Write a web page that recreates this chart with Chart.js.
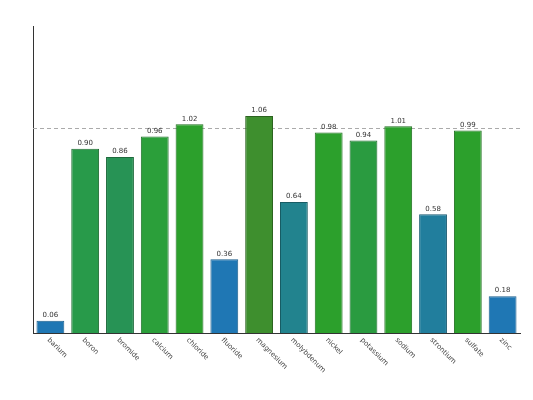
<!DOCTYPE html>
<html lang="en">
<head>
  <meta charset="UTF-8" />
  <title>Concentration ratios</title>
  <script src="https://cdn.jsdelivr.net/npm/chart.js"></script>
  <style>
    html, body { margin: 0; padding: 0; background: #fff; }
    #wrap { width: 533px; height: 400px; }
  </style>
</head>
<body>
  <div id="wrap"><canvas id="ratioChart" width="533" height="400"></canvas></div>

  <script>
    // datos
    const analytes = ['barium', 'boron', 'bromide', 'calcium', 'chloride', 'fluoride', 'magnesium',
      'molybdenum', 'nickel', 'potassium', 'sodium', 'strontium', 'sulfate', 'zinc'];
    const ratios = [0.06, 0.90, 0.86, 0.96, 1.02, 0.36, 1.06, 0.64, 0.98, 0.94, 1.01, 0.58, 0.99, 0.18];
    const barColors = ['#1f77b4', '#289a4a', '#279355', '#2b9f3a', '#2ca02c', '#1f77b4', '#3e8f2e',
      '#22838e', '#2ca02c', '#2a9b40', '#2ca02c', '#217e9d', '#2ca02c', '#1f77b4'];
    const edgeColors = ['#1b5e8c', '#1f6b33', '#1e6a3c', '#1f702a', '#1f6f1f', '#1b5e8c', '#2c6320',
      '#185c64', '#1f6f1f', '#1f6b2d', '#1f6f1f', '#175870', '#1f6f1f', '#1b5e8c'];
    const refLine = 1.0;

    const extras = {
      id: 'extras',
      beforeDatasetsDraw(chart) {
        const { ctx, chartArea, scales } = chart;
        const y = scales.y.getPixelForValue(refLine);
        ctx.save();
        ctx.strokeStyle = '#aaaaaa';
        ctx.lineWidth = 1;
        ctx.setLineDash([4, 3]);
        ctx.beginPath();
        ctx.moveTo(chartArea.left, Math.round(y) + 0.5);
        ctx.lineTo(chartArea.right, Math.round(y) + 0.5);
        ctx.stroke();
        ctx.restore();
      },
      afterDatasetsDraw(chart) {
        const { ctx, chartArea, scales } = chart;
        const meta = chart.getDatasetMeta(0);
        ctx.save();
        ctx.fillStyle = '#333';
        ctx.font = '7px "DejaVu Sans", sans-serif';
        ctx.textAlign = 'center';
        ctx.textBaseline = 'bottom';
        meta.data.forEach((bar, i) => {
          ctx.fillText(ratios[i].toFixed(2), bar.x, bar.y - 2);
        });

        // etiquetas giradas 45° hacia abajo
        ctx.fillStyle = '#444';
        ctx.font = '7px "DejaVu Sans", sans-serif';
        ctx.textAlign = 'left';
        ctx.textBaseline = 'middle';
        analytes.forEach((name, i) => {
          const x = scales.x.getPixelForTick(i);
          ctx.save();
          ctx.translate(x - 2, chartArea.bottom + 6);
          ctx.rotate(Math.PI / 4);
          ctx.fillText(name, 0, 0);
          ctx.restore();
        });
        ctx.restore();
      }
    };

    const ctx = document.getElementById('ratioChart').getContext('2d');
    new Chart(ctx, {
      type: 'bar',
      data: {
        labels: analytes,
        datasets: [{
          data: ratios,
          backgroundColor: barColors,
          borderColor: edgeColors,
          borderWidth: 1,
          barPercentage: 0.8,
          categoryPercentage: 1.0
        }]
      },
      options: {
        responsive: false,
        animation: false,
        layout: { padding: { left: 25, right: 13, top: 26, bottom: 59 } },
        plugins: { legend: { display: false }, tooltip: { enabled: false } },
        scales: {
          x: {
            grid: { display: false },
            border: { display: true, color: '#333', width: 1 },
            ticks: { display: false }
          },
          y: {
            min: 0,
            max: 1.5,
            grid: { display: false },
            border: { display: true, color: '#333', width: 1 },
            ticks: { display: false }
          }
        }
      },
      plugins: [extras]
    });
  </script>
</body>
</html>
